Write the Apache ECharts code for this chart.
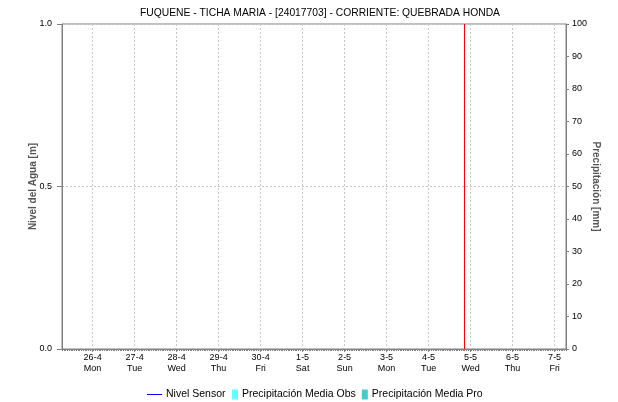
<!DOCTYPE html>
<html>
<head>
<meta charset="utf-8">
<script src="https://cdn.jsdelivr.net/npm/echarts@6/dist/echarts.min.js"></script>
<style>
  html, body { margin: 0; padding: 0; background: #fff; }
  #chart_example { width: 618px; height: 402px; }
</style>
</head>
<body>
<div id="chart_example"></div>
<script>
// dias del eje x (hora 0 = 26-4 00:00)
var dayLabels = ["26-4", "27-4", "28-4", "29-4", "30-4", "1-5", "2-5", "3-5", "4-5", "5-5", "6-5", "7-5"];
var dayNames = ["Mon", "Tue", "Wed", "Thu", "Fri", "Sat", "Sun", "Mon", "Tue", "Wed", "Thu", "Fri"];
var startHour = -17.5;
var endHour = 270.5;
var nowHour = 212.5; // linea roja
// series sin datos en el periodo
var nivelSensor = [];
var precipObs = [];
var precipPro = [];

var dayTicks = dayLabels.map(function (d, i) { return i * 24; });
var font = "Liberation Sans";

var myChart = echarts.init(document.getElementById("chart_example"));
var option = {
  animation: false,
  backgroundColor: "#ffffff",
  title: {
    text: "FUQUENE - TICHA MARIA - [24017703] - CORRIENTE: QUEBRADA HONDA",
    left: 315,
    textAlign: "center",
    top: 3,
    textStyle: { fontFamily: font, fontSize: 10.3, fontWeight: "normal", color: "#000" }
  },
  legend: [
    {
      data: [{ name: "Nivel Sensor", itemStyle: { color: "#0000ff" } }],
      left: 142,
      top: 384,
      icon: "path://M0,0M0,4.5H15V5.5H0Z M15,10",
      itemWidth: 15,
      itemHeight: 10,
      textStyle: { fontFamily: font, fontSize: 10.5, color: "#000", padding: [0, 0, 0, -1] }
    },
    {
      data: ["Precipitación Media Obs", "Precipitación Media Pro"],
      left: 227,
      top: 384,
      icon: "rect",
      itemWidth: 6,
      itemHeight: 10,
      itemGap: 6,
      textStyle: { fontFamily: font, fontSize: 10.5, color: "#000", padding: [0, 0, 0, -1] }
    }
  ],
  grid: {
    left: 62,
    right: 52,
    top: 24,
    bottom: 53,
    show: true,
    borderColor: "#808080",
    borderWidth: 1
  },
  xAxis: [
    {
      type: "value",
      min: startHour,
      max: endHour,
      axisLine: { onZero: false, lineStyle: { color: "#808080" } },
      axisTick: { show: true, customValues: dayTicks, length: 3, lineStyle: { color: "#808080" } },
      axisLabel: {
        customValues: dayTicks,
        fontFamily: font,
        fontSize: 9,
        color: "#000",
        lineHeight: 11,
        margin: 3,
        formatter: function (v) {
          var i = Math.round(v / 24);
          return dayLabels[i] + "\n" + dayNames[i];
        }
      },
      splitLine: { show: true, lineStyle: { color: "#c8c8c8", type: [2, 2] } }
    },
    {
      // marcas horarias del eje inferior
      type: "value",
      position: "bottom",
      min: startHour,
      max: endHour,
      interval: 1,
      axisLine: { show: false, onZero: false },
      axisTick: { show: true, length: 2, lineStyle: { color: "#808080" } },
      axisLabel: { show: false },
      splitLine: { show: false }
    }
  ],
  yAxis: [
    {
      type: "value",
      min: 0,
      max: 1,
      interval: 0.5,
      name: "Nivel del Agua [m]",
      nameLocation: "middle",
      nameGap: 24,
      nameMoveOverlap: false,
      nameTextStyle: { fontFamily: font, fontSize: 10, fontWeight: "bold", color: "#555" },
      axisLine: { show: true, onZero: false, lineStyle: { color: "#808080" } },
      axisTick: { show: true, length: 5, lineStyle: { color: "#808080" } },
      axisLabel: {
        fontFamily: font, fontSize: 9, color: "#000", margin: 10,
        formatter: function (v) { return v.toFixed(1); }
      },
      splitLine: { show: true, lineStyle: { color: "#c8c8c8", type: [2, 2] } }
    },
    {
      type: "value",
      min: 0,
      max: 100,
      interval: 10,
      position: "right",
      name: "Precipitación [mm]",
      nameLocation: "middle",
      nameGap: 25,
      nameMoveOverlap: false,
      nameRotate: -90,
      nameTextStyle: { fontFamily: font, fontSize: 10, fontWeight: "bold", color: "#555" },
      axisLine: { show: true, onZero: false, lineStyle: { color: "#808080" } },
      axisTick: { show: true, length: 3, lineStyle: { color: "#808080" } },
      axisLabel: { fontFamily: font, fontSize: 9, color: "#000", margin: 6 },
      splitLine: { show: false }
    }
  ],
  series: [
    {
      name: "Nivel Sensor",
      type: "line",
      xAxisIndex: 0,
      yAxisIndex: 0,
      symbol: "none",
      itemStyle: { color: "#0000ff" },
      lineStyle: { color: "#0000ff", width: 1 },
      data: nivelSensor,
      markLine: {
        silent: true,
        symbol: "none",
        label: { show: false },
        lineStyle: { color: "#ff0000", type: "solid", width: 1 },
        data: [{ xAxis: nowHour }]
      }
    },
    {
      name: "Precipitación Media Obs",
      type: "bar",
      xAxisIndex: 0,
      yAxisIndex: 1,
      itemStyle: { color: "#66ffff" },
      data: precipObs
    },
    {
      name: "Precipitación Media Pro",
      type: "bar",
      xAxisIndex: 0,
      yAxisIndex: 1,
      itemStyle: { color: "#44cccc" },
      data: precipPro
    }
  ]
};
myChart.setOption(option);
</script>
</body>
</html>
